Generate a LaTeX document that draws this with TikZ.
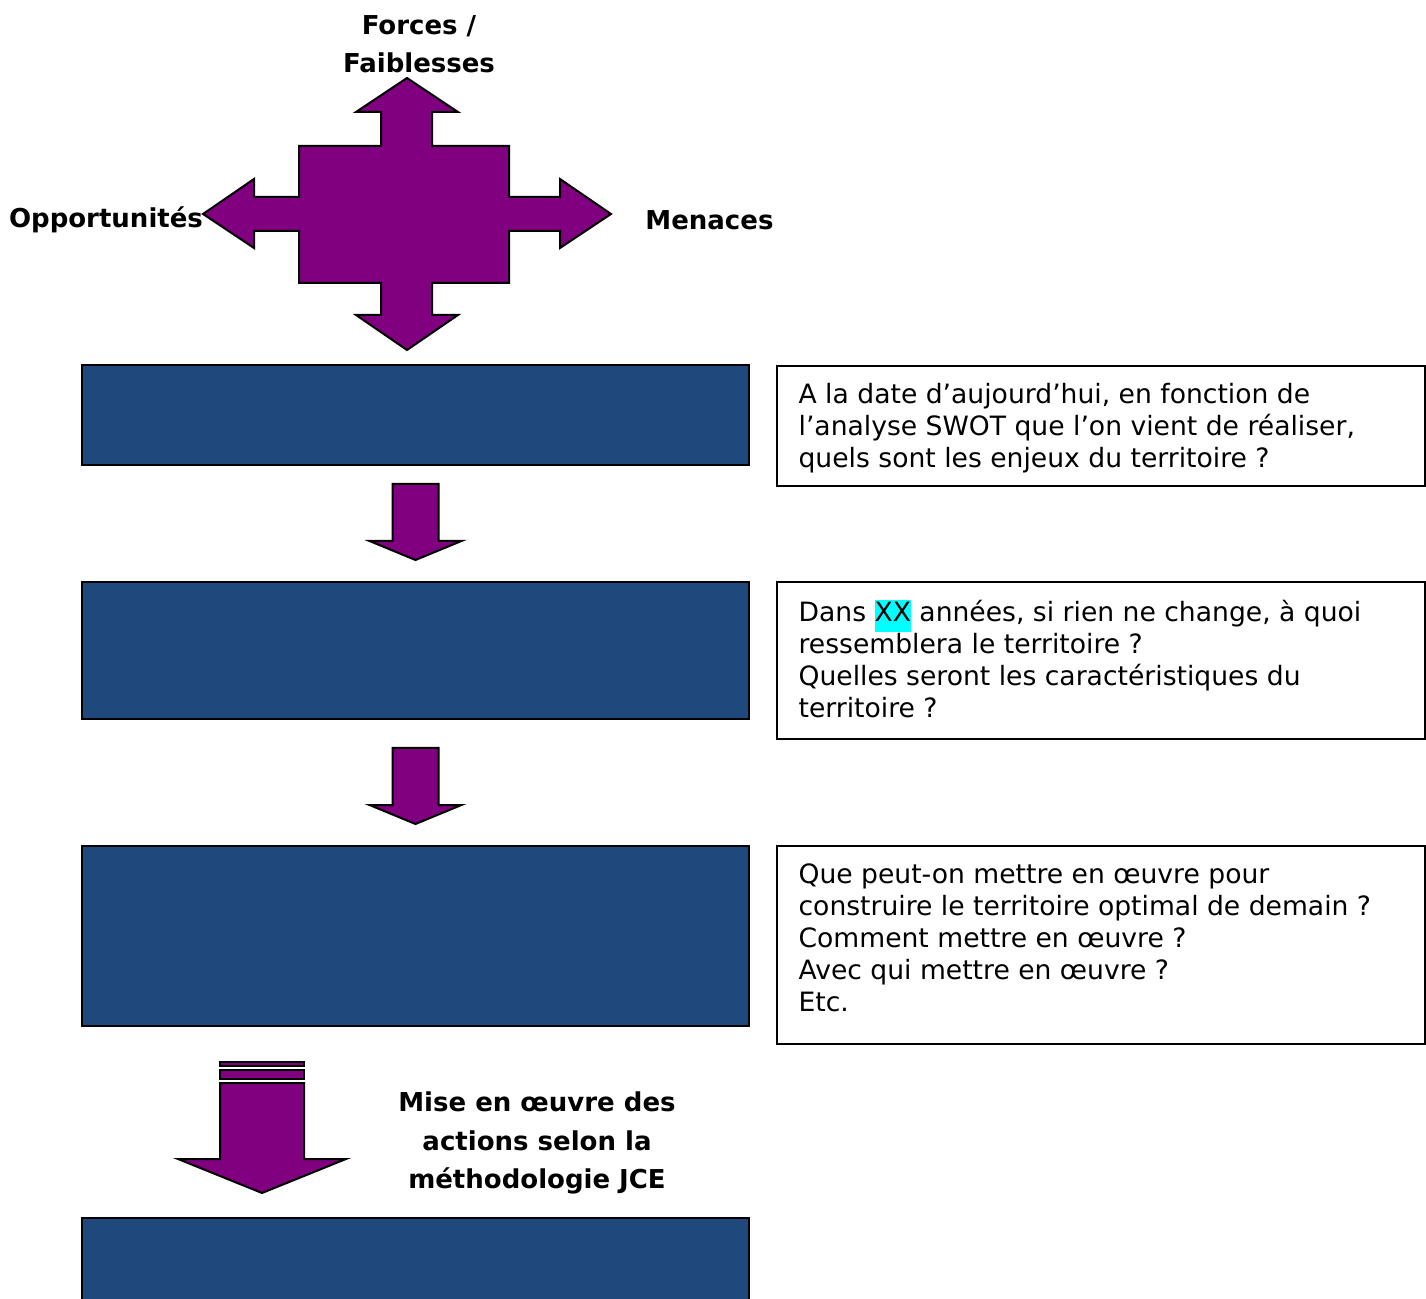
\documentclass[tikz,border=0pt]{standalone}
\usepackage{fontspec}
\setmainfont{DejaVu Sans}
\usetikzlibrary{calc}
\setlength{\fboxsep}{0pt}
\definecolor{swotpurple}{RGB}{128,0,128}
\definecolor{stepblue}{RGB}{31,73,125}
\definecolor{marker}{RGB}{0,255,255}
\tikzstyle{bluebox}=[rectangle,draw=black,fill=stepblue,line width=1pt,minimum width=333.5pt,inner sep=0pt]
\tikzstyle{questionbox}=[rectangle,draw=black,fill=white,line width=0.8pt,minimum width=324pt,inner sep=0pt]
\tikzstyle{question}=[anchor=north west,align=left,inner sep=0pt,font=\fontsize{13.3}{16}\selectfont]
\tikzstyle{swotlabel}=[inner sep=0pt,font=\bfseries\fontsize{13}{19.25}\selectfont]
\tikzstyle{purpleshape}=[draw=black,fill=swotpurple,line width=1pt,line join=miter]

\begin{document}
\begin{tikzpicture}[x=0.5pt,y=-0.5pt]
    \useasboundingbox (0,0) rectangle (1426,1299);
    \clip (0,0) rectangle (1426,1299);

    % SWOT cross
    \draw[purpleshape] (407,78) -- (458,112) -- (432,112) -- (432,146) -- (509,146)
        -- (509,197) -- (560,197) -- (560,179) -- (611,214) -- (560,248) -- (560,231)
        -- (509,231) -- (509,283) -- (432,283) -- (432,315) -- (458,315) -- (407,350)
        -- (356,315) -- (381,315) -- (381,283) -- (299,283) -- (299,231) -- (254,231)
        -- (254,248) -- (203,214) -- (254,179) -- (254,197) -- (299,197) -- (299,146)
        -- (381,146) -- (381,112) -- (356,112) -- cycle;

    \node[swotlabel,align=center] (forces) at (419,44) {Forces /\\Faiblesses};
    \node[swotlabel] (opport) at (106,220) {Opportunités};
    \node[swotlabel,anchor=west] (menaces) at (645,220) {Menaces};

    % blue steps
    \foreach \name/\ypos/\h in {b1/415/50pt, b2/650.5/68.5pt, b3/936/90pt, b4/1318/100pt}
        \node[bluebox,minimum height=\h] (\name) at (415.5,\ypos) {};

    % question boxes
    \foreach \name/\ypos/\h in {q1/426/60pt, q2/660.5/78.5pt, q3/945/99pt}
        \node[questionbox,minimum height=\h] (\name) at (1101,\ypos) {};

    \node[question] (t1) at ($(q1.north west)+(22,18)$)
        {A la date d’aujourd’hui, en fonction de\\l’analyse SWOT que l’on vient de réaliser,\\quels sont les enjeux du territoire ?};
    \node[question] (t2) at ($(q2.north west)+(22,18)$)
        {Dans \colorbox{marker}{\strut XX} années, si rien ne change, à quoi\\ressemblera le territoire ?\\Quelles seront les caractéristiques du\\territoire ?};
    \node[question] (t3) at ($(q3.north west)+(22,18)$)
        {Que peut-on mettre en œuvre pour\\construire le territoire optimal de demain ?\\Comment mettre en œuvre ?\\Avec qui mettre en œuvre ?\\Etc.};

    % arrows between steps
    \foreach \lower in {b2, b3}
        \draw[purpleshape] ($(\lower.north)+(0,-21)$) -- ++(46,-19) -- ++(-23,0) -- ++(0,-57)
            -- ++(-46,0) -- ++(0,57) -- ++(-23,0) -- cycle;

    % big arrow
    \draw[purpleshape] (262,1193) -- (346,1159) -- (304,1159) -- (304,1083) -- (220,1083)
        -- (220,1159) -- (178,1159) -- cycle;
    \draw[purpleshape,line width=0.6pt] (220,1070) rectangle (304,1079);
    \draw[purpleshape,line width=0.6pt] (220,1062) rectangle (304,1066);

    \node[swotlabel,align=center] (mise) at (537,1143) {Mise en œuvre des\\actions selon la\\méthodologie JCE};

\end{tikzpicture}
\end{document}
